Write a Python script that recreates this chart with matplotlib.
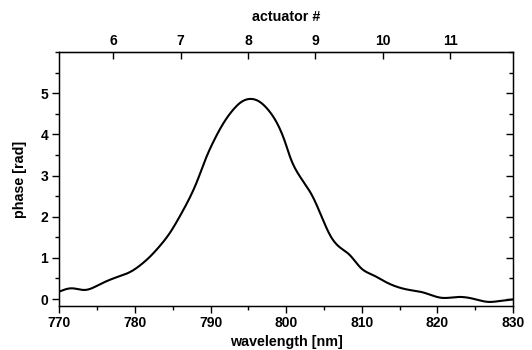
import numpy as np
import matplotlib
matplotlib.use("Agg")
import matplotlib.pyplot as plt
from matplotlib.ticker import MultipleLocator, FixedLocator

plt.rcParams['font.family'] = ['Liberation Sans', 'DejaVu Sans']
plt.rcParams['font.weight'] = 'bold'

wavelength = [770.0, 771.6, 773.4, 775.4, 777.6, 779.4, 780.7, 782.0, 783.3, 784.6,
              786.0, 787.3, 788.2, 789.3, 790.4, 791.7, 793.0, 794.1, 795.2, 796.5,
              797.6, 798.8, 799.9, 800.5, 801.4, 802.1, 803.5, 804.6, 805.9, 807.0,
              808.4, 809.9, 811.5, 813.2, 816.3, 818.1, 820.5, 822.9, 825.1, 826.7,
              828.2, 830.0]
phase = [0.18, 0.26, 0.22, 0.36, 0.53, 0.66, 0.82, 1.03, 1.29, 1.60,
         2.03, 2.48, 2.85, 3.38, 3.83, 4.27, 4.60, 4.79, 4.86, 4.79,
         4.60, 4.27, 3.79, 3.46, 3.10, 2.90, 2.49, 2.04, 1.52, 1.27,
         1.07, 0.75, 0.58, 0.41, 0.22, 0.16, 0.03, 0.05, -0.01, -0.07,
         -0.05, -0.01]
actuator_ticks = [6, 7, 8, 9, 10, 11]
act_wl0 = 777.14   # wavelength of actuator 6
act_pitch = 8.91   # nm per actuator


def natural_spline(x, y, xn):
    x = np.asarray(x, float); y = np.asarray(y, float)
    n = len(x); h = np.diff(x)
    A = np.zeros((n, n)); b = np.zeros(n)
    A[0, 0] = 1; A[-1, -1] = 1
    for i in range(1, n - 1):
        A[i, i-1] = h[i-1]; A[i, i] = 2*(h[i-1] + h[i]); A[i, i+1] = h[i]
        b[i] = 6*((y[i+1]-y[i])/h[i] - (y[i]-y[i-1])/h[i-1])
    M = np.linalg.solve(A, b)
    idx = np.clip(np.searchsorted(x, xn) - 1, 0, n - 2)
    x0 = x[idx]; x1 = x[idx+1]; hh = h[idx]
    return (M[idx]*(x1-xn)**3/(6*hh) + M[idx+1]*(xn-x0)**3/(6*hh)
            + (y[idx]/hh - M[idx]*hh/6)*(x1-xn) + (y[idx+1]/hh - M[idx+1]*hh/6)*(xn-x0))


fig = plt.figure(figsize=(5.32, 3.5), dpi=100)
ax = fig.add_axes([0.1115, 0.1257, 0.8528, 0.7257])

xs = np.linspace(770, 830, 800)
ax.plot(xs, natural_spline(wavelength, phase, xs), color='black', lw=1.5)

ax.set_xlim(770, 830)
ax.set_ylim(-0.17, 6.0)
ax.xaxis.set_major_locator(MultipleLocator(10))
ax.xaxis.set_minor_locator(MultipleLocator(5))
ax.yaxis.set_major_locator(FixedLocator([0, 1, 2, 3, 4, 5]))
ax.yaxis.set_minor_locator(MultipleLocator(0.5))
ax.tick_params(axis='x', which='both', direction='out', bottom=True, top=False,
               labelsize=10, pad=2)
ax.tick_params(axis='x', which='major', length=5, width=1)
ax.tick_params(axis='x', which='minor', length=3, width=1)
ax.tick_params(axis='y', which='both', direction='out', left=True, right=False,
               labelsize=10, pad=3)
ax.tick_params(axis='y', which='major', length=5, width=1)
ax.tick_params(axis='y', which='minor', length=3, width=1)
for s in ax.spines.values():
    s.set_linewidth(1.0)

axr = ax.twinx()
axr.set_ylim(ax.get_ylim())
axr.yaxis.set_major_locator(FixedLocator([0, 1, 2, 3, 4, 5]))
axr.yaxis.set_minor_locator(MultipleLocator(0.5))
axr.tick_params(axis='y', which='both', direction='in', labelright=False, width=1)
axr.tick_params(axis='y', which='major', length=5)
axr.tick_params(axis='y', which='minor', length=3)


def wl2act(w):
    return 6 + (np.asarray(w) - act_wl0) / act_pitch


def act2wl(a):
    return act_wl0 + (np.asarray(a) - 6) * act_pitch


top = ax.secondary_xaxis('top', functions=(wl2act, act2wl))
top.set_xticks(actuator_ticks)
top.tick_params(axis='x', direction='in', length=5, width=1, labelsize=10, pad=3)
top.set_xlabel('actuator #', fontsize=10.3, fontweight='bold', labelpad=9)

ax.set_xlabel('wavelength [nm]', fontsize=10.3, fontweight='bold', labelpad=4)
ax.set_ylabel('phase [rad]', fontsize=10.3, fontweight='bold', labelpad=10)

fig.savefig('out.png', dpi=100)
